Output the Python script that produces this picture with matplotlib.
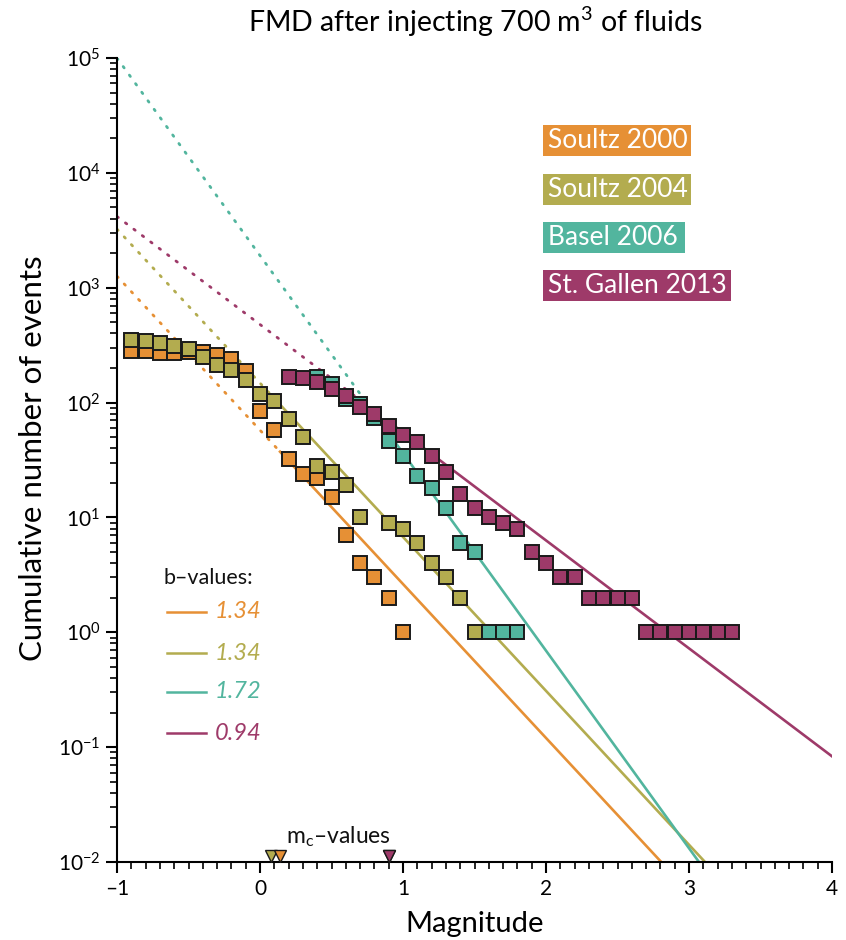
import numpy as np
import matplotlib
matplotlib.use("Agg")
import matplotlib.pyplot as plt
from matplotlib.ticker import MultipleLocator, LogLocator, NullFormatter
from matplotlib.patches import Rectangle
from matplotlib.lines import Line2D

plt.rcParams['font.family'] = ['Lato', 'DejaVu Sans']
plt.rcParams['mathtext.fontset'] = 'custom'
plt.rcParams['mathtext.rm'] = 'Lato'
plt.rcParams['mathtext.it'] = 'Lato:italic'

# ---------------- data ----------------
names = ["Soultz 2000", "Soultz 2004", "Basel 2006", "St. Gallen 2013"]
colors = ["#E69035", "#B3AC4F", "#52B59E", "#9E3A69"]

mag_soultz2000 = [-0.9, -0.8, -0.7, -0.6, -0.5, -0.4, -0.3, -0.2, -0.1, 0.0, 0.1, 0.2,
                  0.3, 0.4, 0.5, 0.6, 0.7, 0.8, 0.9, 1.0]
n_soultz2000 = [280, 279, 272, 268, 274, 274, 258, 240, 187, 85, 58, 32,
                24, 22, 15, 7, 4, 3, 2, 1]

mag_soultz2004 = [-0.9, -0.8, -0.7, -0.6, -0.5, -0.4, -0.3, -0.2, -0.1, 0.0, 0.1, 0.2,
                  0.3, 0.4, 0.5, 0.6, 0.7, 0.9, 1.0, 1.1, 1.2, 1.3, 1.4, 1.5]
n_soultz2004 = [353, 347, 330, 309, 295, 251, 214, 194, 158, 119, 103, 72,
                50, 28, 25, 19, 10, 9, 8, 6, 4, 3, 2, 1]

mag_basel2006 = [0.4, 0.5, 0.6, 0.7, 0.8, 0.9, 1.0, 1.1, 1.2, 1.3, 1.4, 1.5, 1.6, 1.7, 1.8]
n_basel2006 = [166, 146, 108, 97, 73, 46, 34, 23, 18, 12, 6, 5, 1, 1, 1]

mag_stgallen2013 = [0.2, 0.3, 0.4, 0.5, 0.6, 0.7, 0.8, 0.9, 1.0, 1.1, 1.2, 1.3, 1.4, 1.5,
                    1.6, 1.7, 1.8, 1.9, 2.0, 2.1, 2.2, 2.3, 2.4, 2.5, 2.6, 2.7, 2.8,
                    2.9, 3.0, 3.1, 3.2, 3.3]
n_stgallen2013 = [167, 164, 151, 132, 115, 92, 80, 63, 52, 45, 34, 25, 16, 12,
                  10, 9, 8, 5, 4, 3, 3, 2, 2, 2, 2, 1, 1,
                  1, 1, 1, 1, 1]

a_values = [1.76, 2.17, 3.28, 2.68]
b_values = [1.34, 1.34, 1.72, 0.94]
b_labels = ["1.34", "1.34", "1.72", "0.94"]
mc_values = [0.14, 0.08, 0.90, 0.90]

mags = [mag_soultz2000, mag_soultz2004, mag_basel2006, mag_stgallen2013]
counts = [n_soultz2000, n_soultz2004, n_basel2006, n_stgallen2013]

W, H = 846, 940

# ---------------- figure ----------------
fig = plt.figure(figsize=(W/100, H/100), dpi=100)
ax = fig.add_axes([117/W, 1-862/H, (832-117)/W, (862-58)/H])

xmin, xmax = -1.0, 4.0
for i in range(4):
    a, b, mc, c = a_values[i], b_values[i], mc_values[i], colors[i]
    xd = np.linspace(xmin, mc, 50)
    ax.plot(xd, 10**(a - b*xd), color=c, lw=2.0, ls=(0, (0.6, 3.2)),
            dash_capstyle='round', zorder=1)
    xs = np.linspace(mc, xmax, 200)
    ax.plot(xs, 10**(a - b*xs), color=c, lw=1.9, zorder=2)

for i in range(4):
    ax.plot(mags[i], counts[i], ls='none', marker='s', ms=10.5, mfc=colors[i],
            mec='#1a1a1a', mew=1.4, zorder=3 + i)

# mc triangles (olive under orange, teal under magenta)
for i in [1, 0, 2, 3]:
    ax.plot([mc_values[i]], [10**-2 * 1.13], marker='v', ms=9, mfc=colors[i],
            mec='#1a1a1a', mew=1.0, ls='none', zorder=10, clip_on=False)
ax.text(0.55, 10**-1.89, r"m$_\mathregular{c}$–values", ha='center', va='bottom',
        fontsize=16.5, color='#111111')

ax.set_yscale('log')
ax.set_xlim(xmin, xmax)
ax.set_ylim(1e-2, 1e5)

ax.xaxis.set_major_locator(MultipleLocator(1))
ax.xaxis.set_minor_locator(MultipleLocator(0.1))
ax.yaxis.set_major_locator(LogLocator(base=10, numticks=20))
ax.yaxis.set_minor_locator(LogLocator(base=10, subs=np.arange(2, 10), numticks=100))
ax.yaxis.set_minor_formatter(NullFormatter())
ax.set_xticks([-1, 0, 1, 2, 3, 4])
ax.set_xticklabels(["–1", "0", "1", "2", "3", "4"])
ax.xaxis.label.set_visible(False)
ax.yaxis.label.set_visible(False)
ax.xaxis.offsetText.set_visible(False)
ax.yaxis.offsetText.set_visible(False)

for s in ['top', 'right']:
    ax.spines[s].set_visible(False)
for s in ['left', 'bottom']:
    ax.spines[s].set_linewidth(1.5)
ax.tick_params(axis='both', which='major', direction='out', length=8, width=1.5,
               labelsize=15, pad=4)
ax.tick_params(axis='both', which='minor', direction='out', length=5, width=1.2)

fig.text(475/W, 1 - 924/H, "Magnitude", ha='center', va='center', fontsize=21)
fig.text(33/W, 1 - 458/H, "Cumulative number of events", ha='center', va='center',
         fontsize=22.5, rotation=90)
fig.text(475/W, 1 - 22/H, r"FMD after injecting 700 m$^\mathregular{3}$ of fluids",
         ha='center', va='center', fontsize=20.5)

# colored name boxes
boxes = [(543, 125, 691, 156), (543, 174, 691, 205), (543, 222, 685, 253), (543, 270, 731, 301)]
for name, c, (x0, y0, x1, y1) in zip(names, colors, boxes):
    fig.add_artist(Rectangle((x0/W, 1 - y1/H), (x1-x0)/W, (y1-y0)/H,
                             transform=fig.transFigure, facecolor=c, edgecolor='none'))
    fig.text((x0 + 5)/W, 1 - (y0 + y1)/2/H, name, ha='left', va='center', fontsize=19,
             color='white')

# b-values legend
fig.text(163/W, 1 - 578/H, "b–values:", ha='left', va='center', fontsize=15.5, color='#111111')
ly = [612, 653, 692, 733]
for c, lab, y in zip(colors, b_labels, ly):
    yy = 1 - y/H
    fig.add_artist(Line2D([167/W, 206/W], [yy, yy], color=c, lw=1.8))
    fig.text(215/W, yy, lab, ha='left', va='center', fontsize=17, color=c, style='italic')

fig.savefig("out.png", dpi=100)
